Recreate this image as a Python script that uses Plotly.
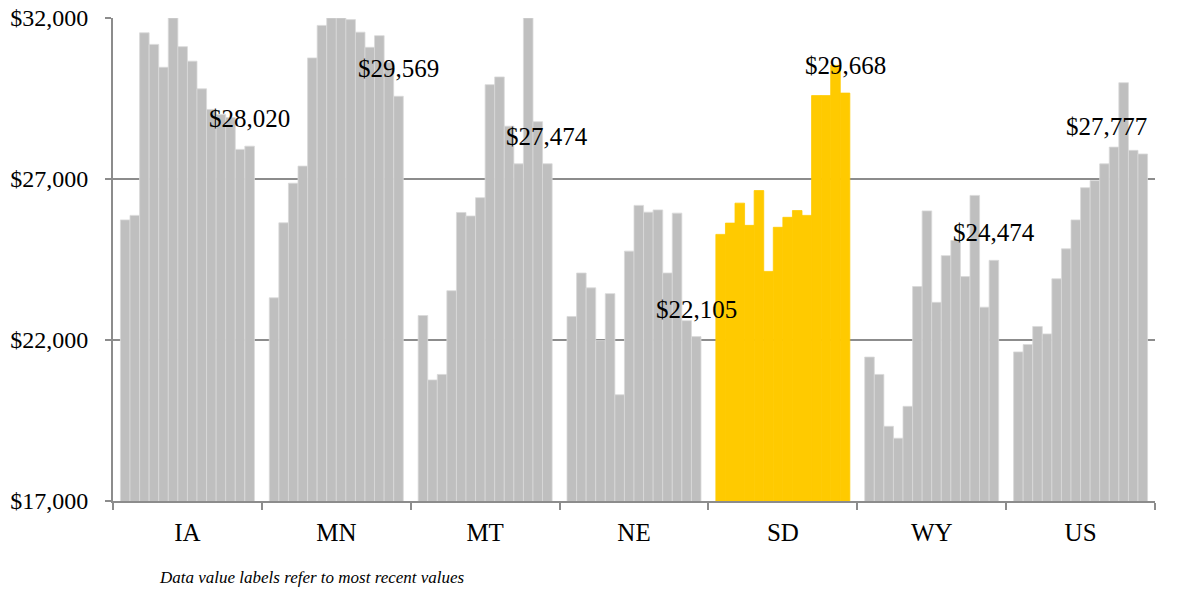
import plotly.graph_objects as go

categories = ["IA", "MN", "MT", "NE", "SD", "WY", "US"]

# Values per category over 14 periods (oldest -> most recent)
IA = [25730, 25870, 31540, 31180, 30470, 32000, 31110, 30660, 29800, 29160, 29000, 28910, 27920, 28020]
MN = [23310, 25640, 26870, 27400, 30760, 31770, 32000, 32000, 31950, 31560, 31090, 31450, 30620, 29569]
MT = [22760, 20760, 20930, 23530, 25960, 25850, 26420, 29930, 30170, 28640, 27470, 32000, 28780, 27474]
NE = [22730, 24080, 23620, 21980, 23440, 20300, 24760, 26180, 25970, 26040, 24080, 25940, 22600, 22105]
SD = [25280, 25630, 26250, 25560, 26640, 24130, 25500, 25810, 26020, 25870, 29590, 29590, 30530, 29668]
WY = [21470, 20930, 19320, 18950, 19940, 23660, 26010, 23170, 24620, 25090, 23970, 26490, 23020, 24474]
US = [21630, 21860, 22420, 22190, 23900, 24830, 25730, 26730, 26950, 27470, 27990, 29990, 27890, 27777]

highlight = "SD"
tick_vals = [17000, 22000, 27000, 32000]
tick_text = ["$17,000", "$22,000", "$27,000", "$32,000"]
footnote = "Data value labels refer to most recent values"

series = [IA, MN, MT, NE, SD, WY, US]
n_periods = len(IA)

GRAY = "#BFBFBF"
GOLD = "#FFCA00"
colors = [GOLD if c == highlight else GRAY for c in categories]
line_colors = [GOLD if c == highlight else "#D9D9D9" for c in categories]

fig = go.Figure()
for p in range(n_periods):
    fig.add_trace(go.Bar(
        x=categories,
        y=[s[p] for s in series],
        marker=dict(color=colors, line=dict(color=line_colors, width=0.8)),
        showlegend=False,
        hoverinfo="skip",
    ))

BARGAP = 0.1
W, H = 1182, 589
ML, MR, MT_, MB = 113, 27, 18, 88
plot_w = W - ML - MR
plot_h = H - MT_ - MB
cat_px = plot_w / len(categories)
bar_px = (1 - BARGAP) * cat_px / n_periods
last_offset = (-(1 - BARGAP) / 2 + (1 - BARGAP) * (n_periods - 0.5) / n_periods) * cat_px

for i, (c, s) in enumerate(zip(categories, series)):
    at_edge = i == len(categories) - 1
    fig.add_annotation(
        x=c, y=s[-1], xref="x", yref="y",
        text="${:,}".format(s[-1]),
        showarrow=False,
        xshift=last_offset + (bar_px / 2 + 1 if at_edge else 0),
        yshift=12,
        yanchor="bottom", xanchor="right" if at_edge else "center",
        font=dict(family="Liberation Serif", size=25, color="#000000"),
    )

fig.add_annotation(
    x=(157 - ML) / plot_w, y=(H - MB - 577) / plot_h, xref="paper", yref="paper",
    text="<i>" + footnote + "</i>", showarrow=False,
    xanchor="left", yanchor="middle",
    font=dict(family="Liberation Serif", size=17, color="#000000"),
)

fig.update_layout(
    width=W, height=H,
    margin=dict(l=ML, r=MR, t=MT_, b=MB, autoexpand=False),
    barmode="group", bargap=BARGAP, bargroupgap=0,
    plot_bgcolor="white", paper_bgcolor="white",
    font=dict(family="Liberation Serif", color="#000000"),
    xaxis=dict(
        type="category", range=[-0.5, len(categories) - 0.5],
        tickson="boundaries", ticks="outside", ticklen=7,
        tickcolor="#8C8C8C", tickwidth=2, showline=True, linecolor="#8C8C8C",
        linewidth=2, showgrid=False, tickfont=dict(size=25, family="Liberation Serif"),
        ticklabelstandoff=8, automargin=False,
    ),
    yaxis=dict(
        range=[17000, 32000], tickvals=tick_vals, ticktext=tick_text,
        ticks="outside", ticklen=6, tickcolor="#8C8C8C", tickwidth=2,
        showline=True, linecolor="#8C8C8C", linewidth=2,
        showgrid=True, gridcolor="#8C8C8C", gridwidth=2, zeroline=False,
        tickfont=dict(size=24, family="Liberation Serif"),
        ticklabelstandoff=12, automargin=False, ticklabeloverflow="allow",
    ),
)

fig.write_html(
    "out.html",
    config={"displayModeBar": False},
    post_script="document.body.style.margin='0';document.body.style.overflow='hidden';",
)
